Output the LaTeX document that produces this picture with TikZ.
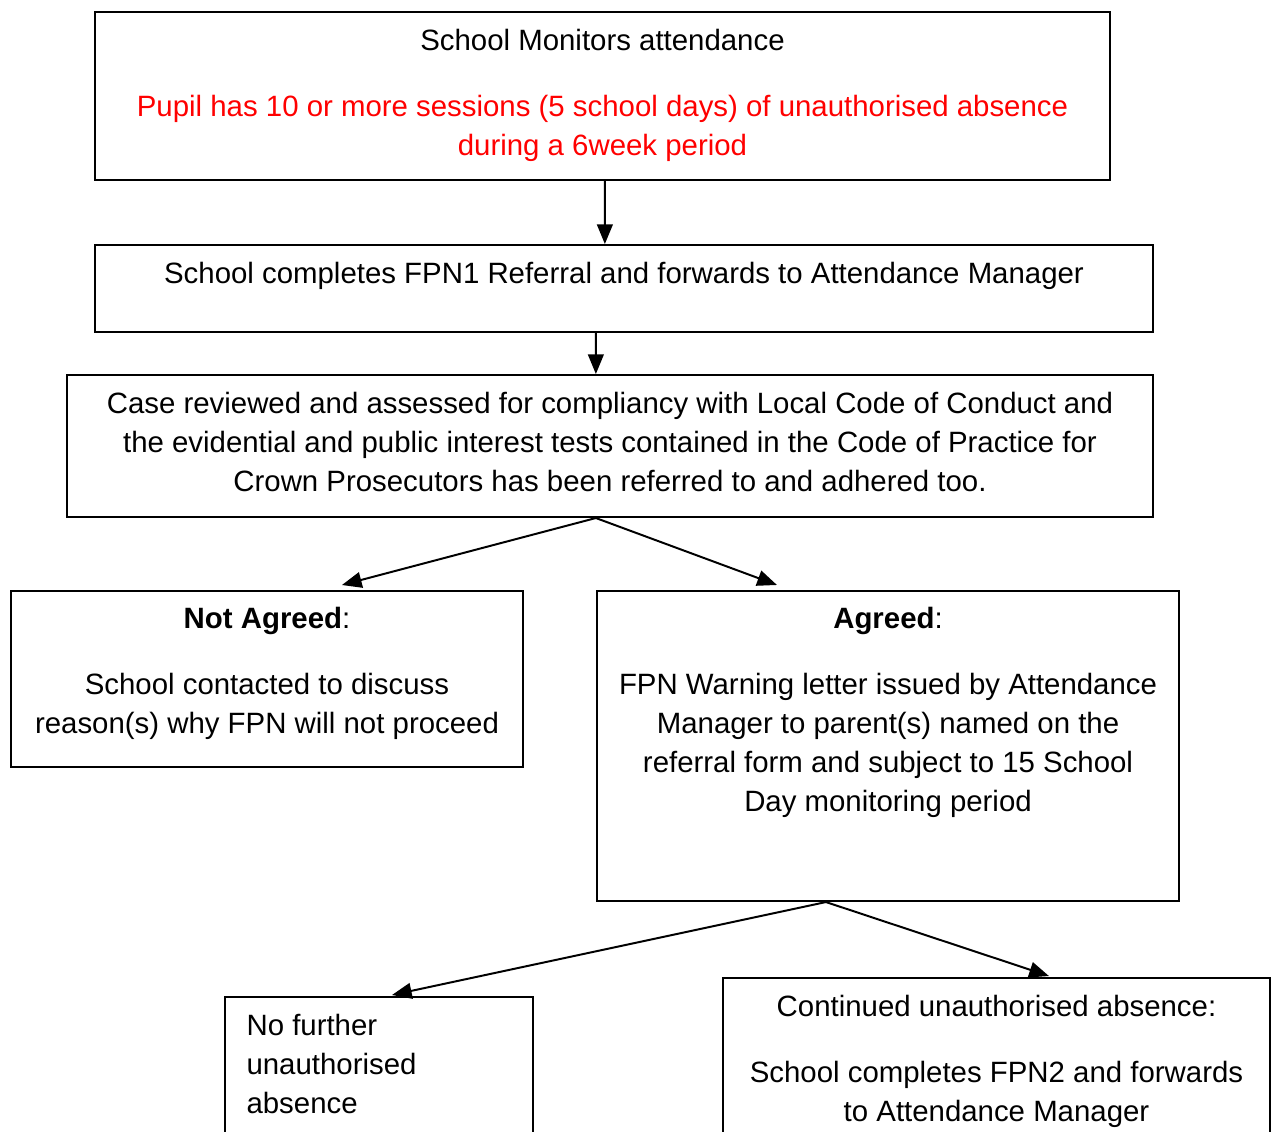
\documentclass[tikz,border=0pt]{standalone}
\usepackage{fontspec}
\setmainfont{Liberation Sans}
\usetikzlibrary{arrows.meta,calc}

\begin{document}
\begin{tikzpicture}[x=0.0125cm, y=-0.0125cm,
  box/.style={draw, line width=0.7pt, inner sep=0pt},
  txt/.style={anchor=north, inner sep=0pt, align=center, font=\fontsize{10.45}{13.87}\selectfont},
  arr/.style={line width=0.7pt, -{Triangle[length=7pt, width=5.6pt]}}]
	\useasboundingbox (0,0) rectangle (1272,1131);
	\clip (0,0) rectangle (1272,1131);
	% boxes
	\node[box, minimum width=12.6875cm, minimum height=2.1cm] (monitor) at (602.5,96) {};
	\node[box, minimum width=13.225cm, minimum height=1.0875cm] (refer) at (624,288.5) {};
	\node[box, minimum width=13.575cm, minimum height=1.775cm] (review) at (610,446) {};
	\node[box, minimum width=6.4cm, minimum height=2.2cm] (notagreed) at (267,679) {};
	\node[box, minimum width=7.275cm, minimum height=3.875cm] (agreed) at (888,746) {};
	\node[box, minimum width=3.85cm, minimum height=2.5375cm] (nofurther) at (379,1098.5) {};
	\node[box, minimum width=6.8375cm, minimum height=2.775cm] (continued) at (996.5,1089) {};
	% texts
	\node[txt] (monitor-t) at (602.5,29) {School Monitors attendance\\[9.6pt]
	  \textcolor{red}{Pupil has 10 or more sessions (5 school days) of unauthorised absence}\\
	  \textcolor{red}{during a 6week period}};
	\node[txt] (refer-t) at (624,262) {School completes FPN1 Referral and forwards to Attendance Manager};
	\node[txt] (review-t) at (610,392) {Case reviewed and assessed for compliancy with Local Code of Conduct and\\
	  the evidential and public interest tests contained in the Code of Practice for\\
	  Crown Prosecutors has been referred to and adhered too.};
	\node[txt] (notagreed-t) at (267,607) {\textbf{Not Agreed}:\\[9.6pt]
	  School contacted to discuss\\reason(s) why FPN will not proceed};
	\node[txt] (agreed-t) at (888,607) {\textbf{Agreed}:\\[9.6pt]
	  FPN Warning letter issued by Attendance\\Manager to parent(s) named on the\\
	  referral form and subject to 15 School\\Day monitoring period};
	\node[txt, anchor=north west, align=left] (nofurther-t) at (246,1014) {No further\\unauthorised\\absence};
	\node[txt] (continued-t) at (996.5,995) {Continued unauthorised absence:\\[9.6pt]
	  School completes FPN2 and forwards\\to Attendance Manager};
	% arrows
	\draw[arr] ($(monitor.south west)+(511,0)$) -- ($(refer.north west)+(511,0)$);
	\draw[arr] ($(refer.south west)+(502,0)$) -- ($(review.north west)+(530,0)$);
	\draw[arr] ($(review.south west)+(530,0)$) -- ($(notagreed.north west)+(332,-5)$);
	\draw[arr] ($(review.south west)+(530,0)$) -- ($(agreed.north west)+(181,-5)$);
	\draw[arr] ($(agreed.south west)+(230,0)$) -- ($(nofurther.north west)+(168,-1)$);
	\draw[arr] ($(agreed.south west)+(230,0)$) -- ($(continued.north west)+(327,-1)$);
\end{tikzpicture}
\end{document}
